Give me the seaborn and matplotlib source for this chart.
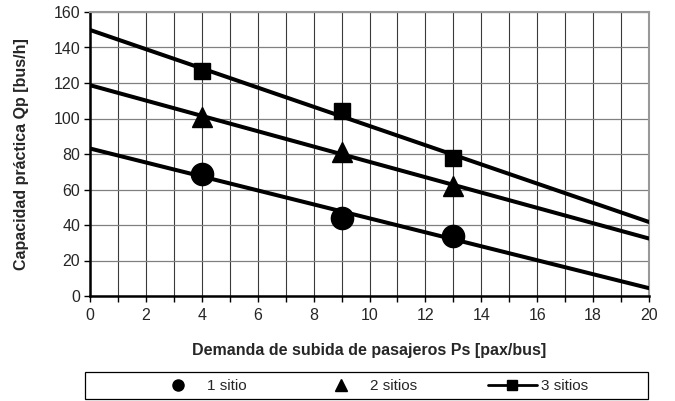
import matplotlib
matplotlib.use("Agg")
import matplotlib.pyplot as plt
from matplotlib.lines import Line2D
from matplotlib.patches import Rectangle
from matplotlib.ticker import MultipleLocator
import numpy as np
import pandas as pd
import seaborn as sns

# values
demand = [4, 9, 13]
series_names = ["1 sitio", "2 sitios", "3 sitios"]
cap_1 = [69, 44, 34]
cap_2 = [101, 81, 62]
cap_3 = [127, 104, 78]
x_range = [0, 20]

markers = ["o", "^", "s"]
marker_sizes = [16, 15, 11]

sns.set_style("white")
plt.rcParams["font.family"] = ["Liberation Sans", "DejaVu Sans"]

fig = plt.figure(figsize=(6.75, 4.01), dpi=100)
ax = fig.add_axes([90 / 675, 1 - 296 / 401, 559 / 675, 284 / 401])

for name, ys, mk, ms in zip(series_names, [cap_1, cap_2, cap_3], markers, marker_sizes):
    # linear trend line across the whole x range
    slope, intercept = np.polyfit(demand, ys, 1)
    trend = pd.DataFrame({"x": x_range, "y": [intercept + slope * v for v in x_range]})
    sns.lineplot(data=trend, x="x", y="y", ax=ax, color="black", linewidth=2.9, zorder=3)
    ax.plot(demand, ys, linestyle="none", marker=mk, markersize=ms,
            color="black", zorder=4)

ax.set_xlim(0, 20)
ax.set_ylim(0, 160)
ax.xaxis.set_major_locator(MultipleLocator(2))
ax.xaxis.set_minor_locator(MultipleLocator(1))
ax.yaxis.set_major_locator(MultipleLocator(20))
ax.grid(True, which="major", axis="y", color="#808080", linewidth=0.9)
ax.grid(True, which="both", axis="x", color="#3a3a3a", linewidth=0.8)
ax.tick_params(axis="both", which="both", direction="out", length=4, width=1,
               color="black", labelsize=11.5, bottom=True, left=True)
ax.tick_params(axis="x", pad=5)
ax.tick_params(axis="y", pad=3)
for side in ["top", "right"]:
    ax.spines[side].set_color("#999999")
    ax.spines[side].set_linewidth(1.5)
for side in ["left", "bottom"]:
    ax.spines[side].set_color("black")
    ax.spines[side].set_linewidth(1.8)

ax.set_xlabel("Demanda de subida de pasajeros Ps [pax/bus]", fontsize=11.5,
              fontweight="bold", labelpad=14)
ax.set_ylabel("Capacidad práctica Qp [bus/h]", fontsize=11.5, fontweight="bold",
              labelpad=18)

# legend box under the chart
fig.patches.append(Rectangle((85 / 675, 2 / 401), 563 / 675, 27 / 401,
                             transform=fig.transFigure, facecolor="white",
                             edgecolor="black", linewidth=0.9))
handles = [
    Line2D([], [], linestyle="none", marker="o", markersize=8, color="black"),
    Line2D([], [], linestyle="none", marker="^", markersize=8, color="black"),
    Line2D([], [], linestyle="-", linewidth=2, marker="s", markersize=7, color="black"),
]
fig.legend(handles, series_names, loc="center", ncol=3,
           bbox_to_anchor=(371 / 675, 1 - 386 / 401), frameon=False,
           fontsize=11, handlelength=3.2, handletextpad=0.3, columnspacing=4.6)

fig.savefig("out.png", dpi=100, facecolor="white")
